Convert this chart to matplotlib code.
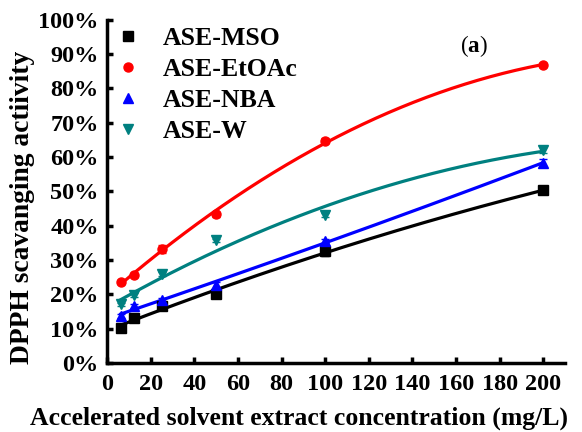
import numpy as np
import matplotlib
matplotlib.use("Agg")
import matplotlib.pyplot as plt
from matplotlib.ticker import FuncFormatter

conc = [6.25, 12.5, 25, 50, 100, 200]
mso = [10.3, 13.0, 16.6, 20.1, 32.5, 50.3]
etoac = [23.7, 25.5, 33.3, 43.3, 64.8, 86.9]
nba = [13.7, 16.6, 18.4, 22.7, 35.6, 58.3]
w = [17.1, 19.8, 25.9, 35.7, 43.2, 62.1]
mso_err = [0.8, 0.5, 0.6, 0.8, 1.2, 0.6]
etoac_err = [0.6, 0.6, 1.2, 0.8, 0.8, 0.5]
nba_err = [0.5, 0.6, 0.5, 0.8, 0.6, 1.2]
w_err = [0.5, 0.6, 0.5, 0.5, 0.6, 0.8]
labels = ["ASE-MSO", "ASE-EtOAc", "ASE-NBA", "ASE-W"]
xticks = list(range(0, 201, 20))
yticks = list(range(0, 101, 10))

plt.rcParams['font.family'] = ['Liberation Serif', 'DejaVu Serif']
plt.rcParams['font.weight'] = 'bold'
plt.rcParams['mathtext.fontset'] = 'custom'
plt.rcParams['mathtext.bf'] = 'Liberation Serif:bold'
plt.rcParams['mathtext.rm'] = 'Liberation Serif'

fig = plt.figure(figsize=(5.82, 4.32), dpi=100)
ax = fig.add_axes([0.184, 0.160, 0.787, 0.794])

series = [(mso, mso_err, 'black', 's'), (etoac, etoac_err, '#ff0000', 'o'),
          (nba, nba_err, '#0000ff', '^'), (w, w_err, '#008080', 'v')]
x = np.array(conc, dtype=float)
xf = np.linspace(x.min(), x.max(), 200)
for (vals, err, col, mk), lab in zip(series, labels):
    y = np.array(vals, dtype=float)
    c = np.polyfit(x, y, 2)
    ax.plot(xf, np.polyval(c, xf), color=col, lw=2.3, zorder=2)
    ax.errorbar(x, y, yerr=err, fmt='none', ecolor=col, capsize=3,
                elinewidth=1, zorder=3)
    ax.plot(x, y, ls='none', marker=mk, color=col, ms=6.5, label=lab, zorder=4)

ax.set_xlim(0, 210)
ax.set_ylim(0, 100)
ax.set_xticks(xticks)
ax.set_yticks(yticks)
ax.yaxis.set_major_formatter(FuncFormatter(lambda v, p: f"{int(v)}%"))
for s in ['top', 'right']:
    ax.spines[s].set_visible(False)
for s in ['left', 'bottom']:
    ax.spines[s].set_linewidth(2.5)
ax.tick_params(direction='in', length=4, width=2.5, labelsize=17.5)
ax.tick_params(axis='x', pad=8)
ax.tick_params(axis='y', pad=6)
for t in ax.get_xticklabels() + ax.get_yticklabels():
    t.set_fontweight('bold')

ax.set_xlabel("Accelerated solvent extract concentration (mg/L)", fontsize=18.5,
              fontweight='bold')
ax.xaxis.set_label_coords(0.42, -0.128)
ax.set_ylabel("DPPH scavanging actiivity", fontsize=19.8, fontweight='bold')
ax.yaxis.set_label_coords(-0.157, 0.452)

leg = ax.legend(loc='upper left', bbox_to_anchor=(0.012, 0.98), frameon=False,
                handletextpad=0.75, labelspacing=0.32, borderaxespad=0.0,
                borderpad=0.0, handlelength=1.2,
                prop={'weight': 'bold', 'size': 18.5})
ax.text(0.80, 0.924, r"($\mathbf{a}$)", transform=ax.transAxes, fontsize=16.5,
        ha='center', va='center', fontweight='normal')

fig.savefig("out.png", dpi=100)
